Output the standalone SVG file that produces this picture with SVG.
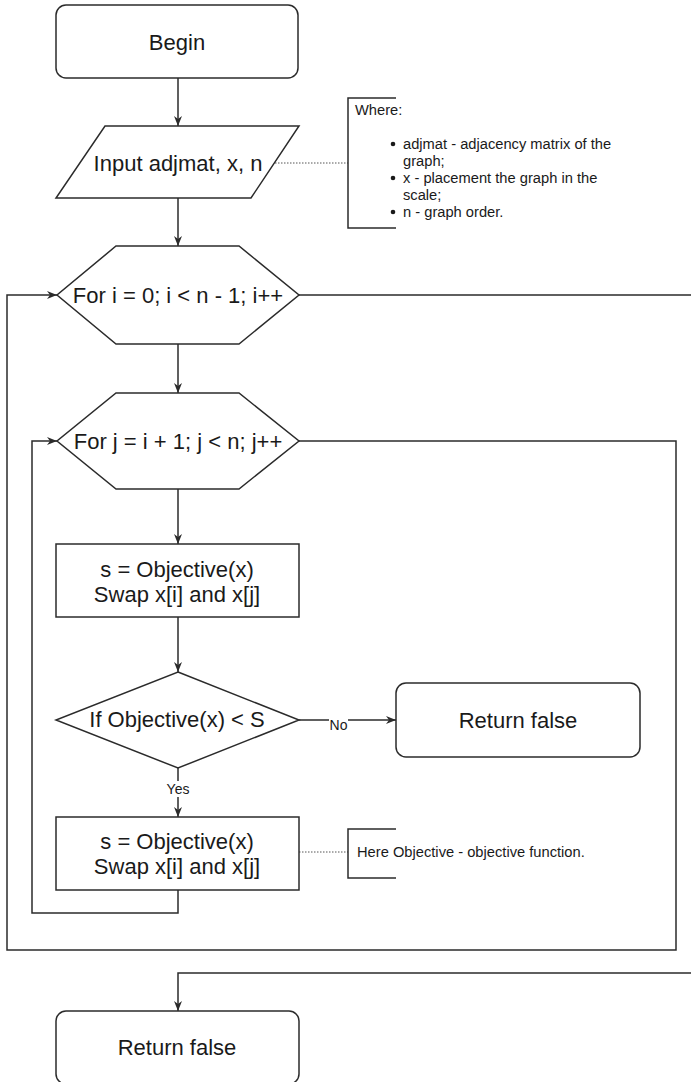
<svg xmlns="http://www.w3.org/2000/svg" width="691" height="1082" viewBox="0 0 691 1082">
  <style>
    .shape { fill: #ffffff; stroke: #2b2b2b; stroke-width: 1.5; }
    .edge { fill: none; stroke: #2b2b2b; stroke-width: 1.5; }
    .dots { fill: none; stroke: #555555; stroke-width: 1; stroke-dasharray: 1.5 1.5; }
    .bracket { fill: none; stroke: #2b2b2b; stroke-width: 1.5; }
    .t { font-family: "Liberation Sans", Arial, Helvetica, sans-serif; fill: #1a1a1a; }
    .big { font-size: 22px; text-anchor: middle; }
    .note { font-size: 14.7px; }
    .lbl { font-size: 14px; text-anchor: middle; }
  </style>
  <defs>
    <marker id="arrow" viewBox="0 0 10 8" refX="10" refY="4" markerWidth="10" markerHeight="8" markerUnits="userSpaceOnUse" orient="auto">
      <path d="M0,0 L10,4 L0,8 L3,4 z" fill="#2b2b2b"/>
    </marker>
  </defs>

  <rect width="691" height="1082" fill="#ffffff"/>

  <!-- connectors -->
  <g id="connectors">
    <path class="edge" d="M178,78 V126" marker-end="url(#arrow)"/>
    <path class="edge" d="M178,198 V246" marker-end="url(#arrow)"/>
    <path class="edge" d="M178,344 V393" marker-end="url(#arrow)"/>
    <path class="edge" d="M178,489 V544" marker-end="url(#arrow)"/>
    <path class="edge" d="M178,617 V672" marker-end="url(#arrow)"/>
    <path class="edge" d="M178,768 V817" marker-end="url(#arrow)"/>
    <path class="edge" d="M299,720 H396" marker-end="url(#arrow)"/>
    <!-- inner loop back to the j loop -->
    <path class="edge" d="M178,890 V913 H32 V441 H57" marker-end="url(#arrow)"/>
    <!-- j loop exit back to the i loop -->
    <path class="edge" d="M299,441 H676 V950 H7 V295 H57" marker-end="url(#arrow)"/>
    <!-- i loop exit -->
    <path class="edge" d="M299,295 H700 V973 H178 V1011" marker-end="url(#arrow)"/>
    <!-- annotation links -->
    <path class="dots" d="M275,163 H348"/>
    <path class="dots" d="M299,852 H348"/>
    <!-- edge labels -->
    <rect x="165" y="781" width="26" height="16" fill="#ffffff"/>
    <text class="t lbl" x="178" y="794">Yes</text>
    <rect x="329" y="714" width="19" height="17" fill="#ffffff"/>
    <text class="t lbl" x="338.5" y="730">No</text>
  </g>

  <g id="begin">
    <rect class="shape" x="56" y="5" width="242" height="73" rx="10" ry="10"/>
    <text class="t big" x="177" y="50">Begin</text>
  </g>

  <g id="input">
    <polygon class="shape" points="105,126 299,126 251,198 56,198"/>
    <text class="t big" x="178" y="171">Input adjmat, x, n</text>
  </g>

  <g id="note-input">
    <path class="bracket" d="M396,98 H348 V228 H396"/>
    <text class="t note" x="355" y="115">Where:</text>
    <circle cx="393" cy="144" r="2.3" fill="#1a1a1a"/>
    <text class="t note" x="403" y="149">adjmat - adjacency matrix of the</text>
    <text class="t note" x="403" y="166">graph;</text>
    <circle cx="393" cy="178" r="2.3" fill="#1a1a1a"/>
    <text class="t note" x="403" y="183">x - placement the graph in the</text>
    <text class="t note" x="403" y="200">scale;</text>
    <circle cx="393" cy="212" r="2.3" fill="#1a1a1a"/>
    <text class="t note" x="403" y="217">n - graph order.</text>
  </g>

  <g id="loop-i">
    <polygon class="shape" points="116,246 239,246 299,295 239,344 116,344 57,295"/>
    <text class="t big" x="178" y="303">For i = 0; i &lt; n - 1; i++</text>
  </g>

  <g id="loop-j">
    <polygon class="shape" points="116,393 239,393 299,441 239,489 116,489 57,441"/>
    <text class="t big" x="178" y="449">For j = i + 1; j &lt; n; j++</text>
  </g>

  <g id="step-1">
    <rect class="shape" x="56" y="544" width="243" height="73"/>
    <text class="t big" x="177" y="577">s = Objective(x)</text>
    <text class="t big" x="177" y="602">Swap x[i] and x[j]</text>
  </g>

  <g id="check">
    <polygon class="shape" points="178,672 299,720 178,768 56,720"/>
    <text class="t big" x="177" y="727">If Objective(x) &lt; S</text>
  </g>

  <g id="return-inner">
    <rect class="shape" x="396" y="683" width="244" height="74" rx="10" ry="10"/>
    <text class="t big" x="518" y="728">Return false</text>
  </g>

  <g id="step-2">
    <rect class="shape" x="56" y="817" width="243" height="73"/>
    <text class="t big" x="177" y="849">s = Objective(x)</text>
    <text class="t big" x="177" y="874">Swap x[i] and x[j]</text>
  </g>

  <g id="note-objective">
    <path class="bracket" d="M396,829 H348 V878 H396"/>
    <text class="t note" x="357" y="857">Here Objective - objective function.</text>
  </g>

  <g id="return-end">
    <rect class="shape" x="56" y="1011" width="243" height="73" rx="10" ry="10"/>
    <text class="t big" x="177" y="1055">Return false</text>
  </g>
</svg>
